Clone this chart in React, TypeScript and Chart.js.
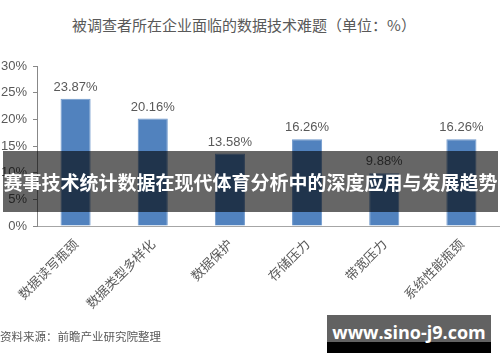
import React, { useEffect, useRef } from "react";
import { Chart, registerables } from "chart.js";

Chart.register(...registerables);

const titleText = "被调查者所在企业面临的数据技术难题（单位：%）";
const categories = ["数据读写瓶颈", "数据类型多样化", "数据保护", "存储压力", "带宽压力", "系统性能瓶颈"];
const values = [23.87, 20.16, 13.58, 16.26, 9.88, 16.26];
const yTickValues = [0, 5, 10, 15, 20, 25, 30];
const sourceText = "资料来源：前瞻产业研究院整理";
const bannerText = "赛事技术统计数据在现代体育分析中的深度应用与发展趋势";
const watermarkText = "www.sino-j9.com";

const FONT = '"Liberation Sans", Arial, "Noto Sans CJK SC", sans-serif';
const CJK = '"Noto Sans CJK SC", "Liberation Sans", sans-serif';

const labelPlugin = {
  id: "barLabels",
  afterDatasetsDraw(chart: any) {
    const ctx = chart.ctx;
    const meta = chart.getDatasetMeta(0);
    ctx.save();
    ctx.font = "13px " + FONT;
    ctx.fillStyle = "#595959";
    ctx.textAlign = "center";
    ctx.textBaseline = "bottom";
    meta.data.forEach((el: any, i: number) => {
      ctx.fillText(values[i].toFixed(2) + "%", el.x, el.y - 5);
    });
    ctx.restore();
  },
};

export default function App() {
  const ref = useRef<HTMLCanvasElement | null>(null);
  useEffect(() => {
    if (!ref.current) return;
    const chart = new Chart(ref.current, {
      type: "bar",
      data: {
        labels: categories,
        datasets: [
          {
            data: values,
            backgroundColor: "#5182BE",
            borderColor: "#7099cc",
            borderWidth: 1,
            barPercentage: 0.39,
            categoryPercentage: 1,
          },
        ],
      },
      options: {
        animation: false,
        responsive: false,
        maintainAspectRatio: false,
        layout: { padding: { top: 66, left: 0, right: 0, bottom: 0 } },
        plugins: { legend: { display: false }, tooltip: { enabled: false }, title: { display: false } },
        scales: {
          x: {
            grid: { display: false },
            border: { display: true, color: "#a6a6a6", width: 1 },
            ticks: {
              color: "#595959",
              font: { family: CJK, size: 13 },
              minRotation: 45,
              maxRotation: 45,
              autoSkip: false,
              padding: 2,
            },
            afterFit(scale: any) {
              scale.height = 136;
            },
          },
          y: {
            min: 0,
            max: 30,
            grid: { drawOnChartArea: false, drawTicks: true, tickLength: 4, color: "#888888" },
            border: { display: true, color: "#888888", width: 1 },
            ticks: {
              color: "#595959",
              font: { family: FONT, size: 13 },
              padding: 6,
              callback: (v: any) => v + "%",
            },
            afterBuildTicks(scale: any) {
              scale.ticks = yTickValues.map((v) => ({ value: v }));
            },
            afterFit(scale: any) {
              scale.width = 37;
            },
          },
        },
      },
      plugins: [labelPlugin],
    });
    return () => chart.destroy();
  }, []);

  return (
    <div style={{ position: "absolute", left: 0, top: 0, width: 500, height: 362, background: "#fff", overflow: "hidden" }}>
      <div
        style={{
          position: "absolute",
          left: 0,
          top: 14,
          width: 488,
          textAlign: "center",
          fontFamily: CJK,
          fontSize: 15,
          color: "#595959",
          lineHeight: "22px",
          whiteSpace: "nowrap",
        }}
      >
        {titleText}
      </div>
      <canvas ref={ref} width={500} height={362} style={{ position: "absolute", left: 0, top: 0, width: 500, height: 362 }} />
      <div
        style={{
          position: "absolute",
          left: 0,
          top: 328,
          fontFamily: CJK,
          fontSize: 11.5,
          color: "#595959",
          lineHeight: "16px",
          whiteSpace: "nowrap",
        }}
      >
        {sourceText}
      </div>
      <div
        style={{
          position: "absolute",
          left: 3,
          top: 151,
          width: 495,
          height: 61,
          background: "rgba(0,0,0,0.6)",
          color: "#fff",
          fontFamily: CJK,
          fontWeight: 700,
          fontSize: 19,
          lineHeight: "61px",
          textAlign: "center",
          whiteSpace: "nowrap",
        }}
      >
        {bannerText}
      </div>
      <div
        style={{
          position: "absolute",
          left: 327,
          top: 315,
          width: 164,
          height: 38,
          background: "linear-gradient(#626262 0px, #626262 27px, #000 27px, #000 38px)",
          color: "#fff",
          fontFamily: '"Open Sans", "Liberation Sans", sans-serif',
          fontWeight: 700,
          fontSize: 18,
          lineHeight: "34px",
          textAlign: "center",
          whiteSpace: "nowrap",
        }}
      >
        {watermarkText}
      </div>
    </div>
  );
}
